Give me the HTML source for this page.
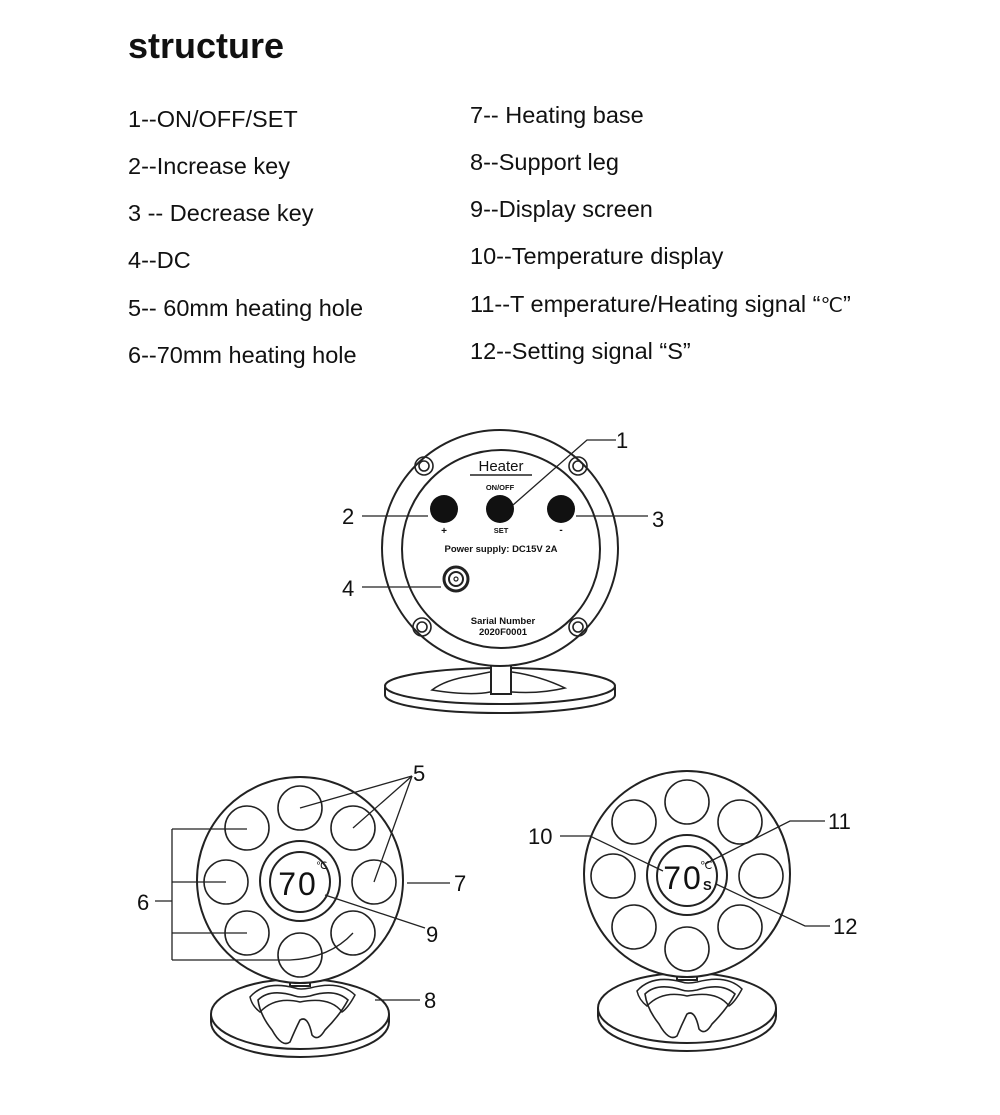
<!DOCTYPE html>
<html><head><meta charset="utf-8"><style>
html,body{margin:0;padding:0;background:#fff}
svg{display:block}
text{font-family:"Liberation Sans",Arial,sans-serif;fill:#111}
</style></head><body>
<svg width="1000" height="1115" viewBox="0 0 1000 1115" xmlns="http://www.w3.org/2000/svg">
<text x="128" y="58" font-size="36" font-weight="bold">structure</text>
<g font-size="23.5">
<text x="128" y="127">1--ON/OFF/SET</text>
<text x="128" y="174">2--Increase key</text>
<text x="128" y="221">3 -- Decrease key</text>
<text x="128" y="268">4--DC</text>
<text x="128" y="316">5-- 60mm heating hole</text>
<text x="128" y="363">6--70mm heating hole</text>
<text x="470" y="123">7-- Heating base</text>
<text x="470" y="170">8--Support leg</text>
<text x="470" y="217">9--Display screen</text>
<text x="470" y="264">10--Temperature display</text>
<text x="470" y="312">11--T emperature/Heating signal “<tspan font-family="Liberation Serif" font-size="20">℃</tspan>”</text>
<text x="470" y="359">12--Setting signal “S”</text>
</g>

<!-- top device -->
<g fill="none" stroke="#222" stroke-width="2">
<path d="M385 687 L385 695 A115 18 0 0 0 615 695 L615 687"/>
<ellipse cx="500" cy="686" rx="115" ry="18" fill="#fff"/>
<path d="M432 690 Q445 680 470 676 L490 672 L512 672 Q540 676 565 688 Q540 694 512 692 L490 692 Q470 696 432 690 Z" stroke-width="1.5"/>
<rect x="491" y="660" width="20" height="34" fill="#fff"/>
<circle cx="500" cy="548" r="118" fill="#fff"/>
<circle cx="501" cy="549" r="99"/>
<g stroke-width="1.6">
<circle cx="424" cy="466" r="9"/><circle cx="424" cy="466" r="5"/>
<circle cx="578" cy="466" r="9"/><circle cx="578" cy="466" r="5"/>
<circle cx="422" cy="627" r="9"/><circle cx="422" cy="627" r="5"/>
<circle cx="578" cy="627" r="9"/><circle cx="578" cy="627" r="5"/>
</g>
<line x1="470" y1="475" x2="532" y2="475" stroke-width="1.5"/>
<circle cx="456" cy="579" r="12" stroke-width="3"/><circle cx="456" cy="579" r="7" stroke-width="2"/>
<circle cx="456" cy="579" r="2" stroke-width="1.2"/>
<g stroke-width="1.3">
<polyline points="616,440 587,440 513,505"/>
<line x1="362" y1="516" x2="428" y2="516"/>
<line x1="576" y1="516" x2="648" y2="516"/>
<line x1="362" y1="587" x2="441" y2="587"/>
</g>
</g>
<g fill="#111"><circle cx="444" cy="509" r="14"/><circle cx="500" cy="509" r="14"/><circle cx="561" cy="509" r="14"/></g>
<text x="501" y="471" font-size="15" text-anchor="middle">Heater</text>
<text x="500" y="490" font-size="7.5" font-weight="bold" text-anchor="middle">ON/OFF</text>
<text x="444" y="534" font-size="10" font-weight="bold" text-anchor="middle">+</text>
<text x="501" y="533" font-size="7.5" font-weight="bold" text-anchor="middle">SET</text>
<text x="561" y="533" font-size="10" font-weight="bold" text-anchor="middle">-</text>
<text x="501" y="552" font-size="9.5" font-weight="bold" text-anchor="middle">Power  supply: DC15V  2A</text>
<text x="503" y="624" font-size="9.5" font-weight="bold" text-anchor="middle">Sarial Number</text>
<text x="503" y="635" font-size="9.5" font-weight="bold" text-anchor="middle">2020F0001</text>
<g font-size="22">
<text x="616" y="448">1</text>
<text x="342" y="524">2</text>
<text x="652" y="527">3</text>
<text x="342" y="596">4</text>
</g>

<defs>
<g id="dev" fill="none" stroke="#222" stroke-width="2">
<path d="M-89 134 L-89 142 A89 35 0 0 0 89 142 L89 134" fill="#fff"/>
<ellipse cx="0" cy="134" rx="89" ry="35" fill="#fff"/>
<path d="M-42 120 Q-30 108 -5 116 Q0 118 10 116 Q35 108 48 120 Q40 135 25 150 Q18 162 12 155 Q8 135 0 140 Q-5 150 -10 162 Q-18 168 -28 150 Q-40 135 -42 120 Z" stroke-width="1.6"/>
<path d="M-50 117 Q-35 100 -5 108 Q0 110 10 108 Q40 100 55 115 Q48 128 42 132 Q30 116 0 122 Q-25 116 -40 132 Q-48 126 -50 117 Z" stroke-width="1.5"/>
<rect x="-10" y="96" width="20" height="10" fill="#fff"/>
<circle cx="0" cy="0" r="103" fill="#fff"/>
<circle cx="0" cy="1" r="40"/>
<circle cx="0" cy="2" r="30"/>
<g stroke-width="1.6">
<circle cx="0" cy="-72" r="22"/><circle cx="53" cy="-52" r="22"/><circle cx="74" cy="2" r="22"/><circle cx="53" cy="53" r="22"/>
<circle cx="0" cy="75" r="22"/><circle cx="-53" cy="53" r="22"/><circle cx="-74" cy="2" r="22"/><circle cx="-53" cy="-52" r="22"/>
</g>
</g>
</defs>
<use href="#dev" x="300" y="880"/>
<use href="#dev" x="687" y="874"/>

<g font-size="32" font-family="Liberation Mono, monospace">
<text x="298" y="895" text-anchor="middle" style="letter-spacing:2px">70</text>
<text x="683" y="889" text-anchor="middle" style="letter-spacing:2px">70</text>
</g>
<text x="316" y="869" font-size="10">℃</text>
<text x="700" y="869" font-size="11">℃</text>
<text x="703" y="890" font-size="13" font-weight="bold">S</text>

<g fill="none" stroke="#222" stroke-width="1.3">
<line x1="412" y1="776" x2="300" y2="808"/>
<line x1="412" y1="776" x2="353" y2="828"/>
<line x1="412" y1="776" x2="374" y2="882"/>
<polyline points="155,901 172,901"/>
<line x1="172" y1="829" x2="172" y2="960"/>
<line x1="172" y1="829" x2="247" y2="829"/>
<line x1="172" y1="882" x2="226" y2="882"/>
<line x1="172" y1="933" x2="247" y2="933"/>
<path d="M172 960 L290 960 Q330 958 353 933"/>
<line x1="407" y1="883" x2="450" y2="883"/>
<line x1="325" y1="895" x2="425" y2="928"/>
<line x1="375" y1="1000" x2="420" y2="1000"/>
<polyline points="560,836 590,836 663,871"/>
<polyline points="825,821 790,821 705,864"/>
<polyline points="830,926 805,926 716,884"/>
</g>
<g font-size="22">
<text x="413" y="781">5</text>
<text x="137" y="910">6</text>
<text x="454" y="891">7</text>
<text x="426" y="942">9</text>
<text x="424" y="1008">8</text>
<text x="528" y="844">10</text>
<text x="828" y="829">11</text>
<text x="833" y="934">12</text>
</g>
</svg>
</body></html>
